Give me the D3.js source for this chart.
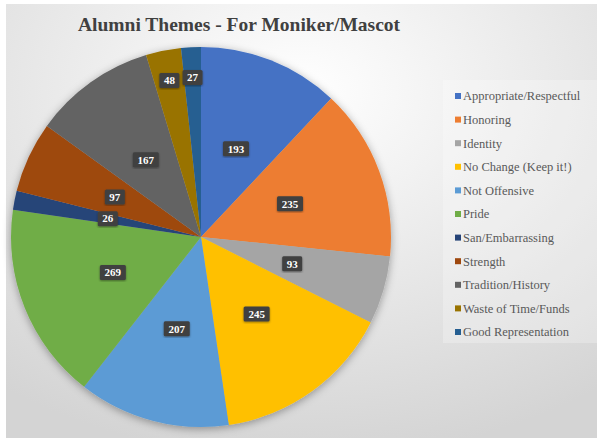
<!DOCTYPE html>
<html>
<head>
<meta charset="utf-8">
<script src="https://cdn.jsdelivr.net/npm/d3@7"></script>
<style>
  body { margin: 0; background: #fff; }
  svg { display: block; }
  text { font-family: "Liberation Serif", "Times New Roman", "DejaVu Serif", serif; }
</style>
</head>
<body>
<svg width="597" height="440"></svg>
<script>
var themes = ["Appropriate/Respectful", "Honoring", "Identity", "No Change (Keep it!)",
              "Not Offensive", "Pride", "San/Embarrassing", "Strength",
              "Tradition/History", "Waste of Time/Funds", "Good Representation"];
var counts = [193, 235, 93, 245, 207, 269, 26, 97, 167, 48, 27];
var colors = ["#4472c4", "#ed7d31", "#a5a5a5", "#ffc000", "#5b9bd5", "#70ad47",
              "#264478", "#9e480e", "#636363", "#997300", "#255e91"];
// labels Excel pushed toward the rim
var outerLabels = ["Waste of Time/Funds", "Good Representation"];

var svg = d3.select("svg");
var defs = svg.append("defs");

var bg = defs.append("radialGradient")
    .attr("id", "bg")
    .attr("cx", "50%").attr("cy", "20%").attr("r", "85%");
bg.append("stop").attr("offset", "0%").attr("stop-color", "#ffffff");
bg.append("stop").attr("offset", "100%").attr("stop-color", "#d4d4d4");

var shadow = defs.append("filter").attr("id", "shadow")
    .attr("x", "-20%").attr("y", "-20%").attr("width", "140%").attr("height", "140%");
shadow.append("feDropShadow").attr("dx", 0).attr("dy", 2)
    .attr("stdDeviation", 4).attr("flood-color", "#000").attr("flood-opacity", 0.35);

var lblShadow = defs.append("filter").attr("id", "lblShadow");
lblShadow.append("feDropShadow").attr("dx", 0).attr("dy", 1)
    .attr("stdDeviation", 1).attr("flood-color", "#000").attr("flood-opacity", 0.4);

svg.append("rect")
    .attr("x", 6).attr("y", 4).attr("width", 591).attr("height", 434)
    .attr("fill", "url(#bg)");

svg.append("text")
    .attr("x", 239).attr("y", 31)
    .attr("text-anchor", "middle")
    .attr("font-weight", "bold")
    .attr("font-size", 19.5)
    .attr("fill", "#404040")
    .text("Alumni Themes - For Moniker/Mascot");

var cx = 201, cy = 237, R = 190;

var pie = d3.pie().sort(null).value(function(d) { return d; });
var arcs = pie(counts);
var arc = d3.arc().innerRadius(0).outerRadius(R);

var g = svg.append("g").attr("transform", "translate(" + cx + "," + cy + ")");

g.append("g").attr("filter", "url(#shadow)")
  .selectAll("path")
  .data(arcs)
  .enter()
  .append("path")
    .attr("d", arc)
    .attr("fill", function(d, i) { return colors[i]; });

var labels = g.selectAll(".lbl")
    .data(arcs)
    .enter()
    .append("g")
    .attr("class", "lbl")
    .attr("transform", function(d, i) {
      var k = outerLabels.indexOf(themes[i]) >= 0 ? 0.84 : 0.5;
      var a = (d.startAngle + d.endAngle) / 2;
      return "translate(" + (Math.sin(a) * R * k) + "," + (-Math.cos(a) * R * k) + ")";
    });

labels.append("rect")
    .attr("x", function(d) { return String(d.value).length > 2 ? -13 : -10; })
    .attr("y", -7.5)
    .attr("width", function(d) { return String(d.value).length > 2 ? 26 : 20; })
    .attr("height", 15)
    .attr("rx", 1.5)
    .attr("fill", "#404040")
    .attr("filter", "url(#lblShadow)");

labels.append("text")
    .attr("text-anchor", "middle")
    .attr("dy", "0.35em")
    .attr("font-weight", "bold")
    .attr("font-size", 11)
    .attr("fill", "#ffffff")
    .text(function(d) { return d.value; });

// legend
svg.append("rect")
    .attr("x", 443).attr("y", 80).attr("width", 154).attr("height", 263)
    .attr("fill", "#ffffff").attr("opacity", 0.25);

var ly = d3.scalePoint().domain(themes).range([96, 332]);

var leg = svg.selectAll(".leg")
    .data(themes)
    .enter()
    .append("g")
    .attr("class", "leg")
    .attr("transform", function(d) { return "translate(455," + ly(d) + ")"; });

leg.append("rect")
    .attr("x", 0).attr("y", -3).attr("width", 6).attr("height", 6)
    .attr("fill", function(d, i) { return colors[i]; });

leg.append("text")
    .attr("x", 8).attr("dy", "0.35em")
    .attr("font-size", 12.5)
    .attr("fill", "#595959")
    .text(function(d) { return d; });
</script>
</body>
</html>
